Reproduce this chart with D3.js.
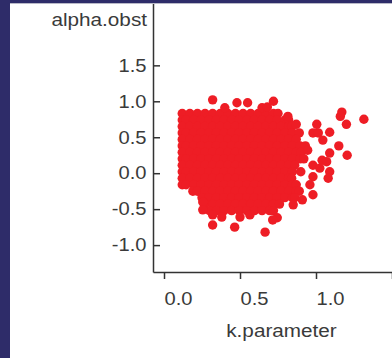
<!DOCTYPE html>
<html>
<head>
<meta charset="utf-8">
<script src="https://cdn.jsdelivr.net/npm/d3@7"></script>
<style>
  html, body { margin: 0; padding: 0; background: #ffffff; }
  svg { display: block; }
</style>
</head>
<body>
<svg id="chart"></svg>
<script>
// Dense core of the cloud, read row by row: alpha.obst of each row, k.parameter values along it
const coreAlpha = [0.83, 0.74, 0.65, 0.56, 0.47, 0.38, 0.29, 0.20, 0.11, 0.02, -0.07, -0.16, -0.25, -0.34, -0.43, -0.52];
const coreK = [
  [0.12, 0.17, 0.22, 0.27, 0.32, 0.37, 0.42, 0.47, 0.52, 0.57, 0.62, 0.67, 0.72, 0.75],
  [0.12, 0.145, 0.195, 0.245, 0.295, 0.345, 0.395, 0.445, 0.495, 0.545, 0.595, 0.645, 0.695, 0.745, 0.795, 0.82],
  [0.12, 0.17, 0.22, 0.27, 0.32, 0.37, 0.42, 0.47, 0.52, 0.57, 0.62, 0.67, 0.72, 0.77, 0.82, 0.84],
  [0.12, 0.145, 0.195, 0.245, 0.295, 0.345, 0.395, 0.445, 0.495, 0.545, 0.595, 0.645, 0.695, 0.745, 0.795, 0.845, 0.89],
  [0.12, 0.17, 0.22, 0.27, 0.32, 0.37, 0.42, 0.47, 0.52, 0.57, 0.62, 0.67, 0.72, 0.77, 0.82, 0.87],
  [0.12, 0.145, 0.195, 0.245, 0.295, 0.345, 0.395, 0.445, 0.495, 0.545, 0.595, 0.645, 0.695, 0.745, 0.795, 0.845, 0.895, 0.93],
  [0.12, 0.17, 0.22, 0.27, 0.32, 0.37, 0.42, 0.47, 0.52, 0.57, 0.62, 0.67, 0.72, 0.77, 0.82, 0.87, 0.90],
  [0.12, 0.145, 0.195, 0.245, 0.295, 0.345, 0.395, 0.445, 0.495, 0.545, 0.595, 0.645, 0.695, 0.745, 0.795, 0.845, 0.895, 0.92],
  [0.12, 0.17, 0.22, 0.27, 0.32, 0.37, 0.42, 0.47, 0.52, 0.57, 0.62, 0.67, 0.72, 0.77, 0.82, 0.86],
  [0.12, 0.145, 0.195, 0.245, 0.295, 0.345, 0.395, 0.445, 0.495, 0.545, 0.595, 0.645, 0.695, 0.745, 0.795, 0.845, 0.90],
  [0.12, 0.17, 0.22, 0.27, 0.32, 0.37, 0.42, 0.47, 0.52, 0.57, 0.62, 0.67, 0.72, 0.77, 0.82, 0.84],
  [0.12, 0.145, 0.195, 0.245, 0.295, 0.345, 0.395, 0.445, 0.495, 0.545, 0.595, 0.645, 0.695, 0.745, 0.795, 0.845, 0.87],
  [0.19, 0.22, 0.27, 0.32, 0.37, 0.42, 0.47, 0.52, 0.57, 0.62, 0.67, 0.72, 0.77, 0.82, 0.87, 0.89],
  [0.25, 0.295, 0.345, 0.395, 0.445, 0.495, 0.545, 0.595, 0.645, 0.695, 0.745, 0.795, 0.845, 0.86],
  [0.27, 0.32, 0.37, 0.42, 0.47, 0.52, 0.57, 0.62, 0.67, 0.72, 0.76],
  [0.30, 0.345, 0.395, 0.445, 0.495, 0.545, 0.595, 0.645, 0.695, 0.72]
];

// Scattered points around the core
const outlierK = [0.32, 0.48, 0.55, 0.40, 0.645, 0.68, 0.72, 0.815, 0.87, 1.005, 0.98, 1.015, 1.09, 1.045,
  1.17, 1.16, 1.20, 1.315, 1.15, 1.205, 1.09, 0.945, 1.04, 1.07, 0.98, 1.025, 1.09, 1.08, 0.98, 0.96,
  0.98, 0.91, 0.85, 0.745, 0.715, 0.665, 0.565, 0.50, 0.38, 0.32, 0.32, 0.465, 0.255, 0.255];
const outlierAlpha = [1.02, 0.98, 0.98, 0.91, 0.91, 0.92, 1.00, 0.79, 0.68, 0.68, 0.56, 0.56, 0.57, 0.46,
  0.85, 0.79, 0.68, 0.75, 0.38, 0.25, 0.28, 0.32, 0.18, 0.16, 0.11, 0.07, 0.02, -0.07, -0.05, -0.16,
  -0.30, -0.37, -0.44, -0.62, -0.65, -0.82, -0.58, -0.61, -0.61, -0.58, -0.72, -0.75, -0.40, -0.51];

const xTicks = [0.0, 0.5, 1.0, 1.5];
const xTickLabels = ['0.0', '0.5', '1.0', ''];
const yTicks = [-1.0, -0.5, 0.0, 0.5, 1.0, 1.5];
const xTitle = 'k.parameter';
const yTitle = 'alpha.obst';

// Dimensions
const width = 392;
const height = 358;
const plot = { left: 153, right: 392, top: 3, bottom: 272 };
const stretch = 'scale(1.12,1)';

const svg = d3.select('#chart').attr('width', width).attr('height', height);

// Scales
const xScale = d3.scaleLinear().domain([-0.0724, 1.5]).range([plot.left, plot.right]);
const yScale = d3.scaleLinear().domain([-1.374, 2.367]).range([plot.bottom, plot.top]);

// Flatten the rows and the outliers into one point list
const points = [];
coreAlpha.forEach((a, i) => coreK[i].forEach((k) => points.push({ k: k, a: a })));
outlierK.forEach((k, i) => points.push({ k: k, a: outlierAlpha[i] }));

svg
  .append('g')
  .selectAll('circle')
  .data(points)
  .enter()
  .append('circle')
  .attr('cx', (d) => xScale(d.k))
  .attr('cy', (d) => yScale(d.a))
  .attr('r', 4.7)
  .attr('fill', '#ee1d25');

// Axes
const yAxisGrp = svg
  .append('g')
  .attr('transform', `translate(${plot.left},0)`)
  .call(d3.axisLeft(yScale).tickValues(yTicks).tickFormat((d) => d.toFixed(1)).tickSizeInner(-7).tickSizeOuter(0));

yAxisGrp
  .selectAll('.tick text')
  .attr('x', 0)
  .attr('transform', 'translate(-6.5,0) ' + stretch);

const xAxisGrp = svg
  .append('g')
  .attr('transform', `translate(0,${plot.bottom})`)
  .call(d3.axisBottom(xScale).tickValues(xTicks).tickFormat((d, i) => xTickLabels[i]).tickSizeInner(7).tickSizeOuter(0));

xAxisGrp
  .selectAll('.tick text')
  .attr('y', 0)
  .attr('dy', 0)
  .attr('text-anchor', 'start')
  .attr('transform', 'translate(0,33) ' + stretch);

svg.selectAll('.domain, .tick line').attr('stroke', '#333333').attr('stroke-width', 1.5);
svg
  .selectAll('.tick text')
  .attr('fill', '#3a3a3a')
  .style('font-family', '"Liberation Sans", Arial, sans-serif')
  .style('font-size', '18px');

// Axis titles
svg
  .append('text')
  .attr('transform', `translate(281.5,337) ${stretch}`)
  .attr('text-anchor', 'middle')
  .attr('fill', '#3a3a3a')
  .style('font-family', '"Liberation Sans", Arial, sans-serif')
  .style('font-size', '18.5px')
  .text(xTitle);

svg
  .append('text')
  .attr('transform', `translate(147,25.5) ${stretch}`)
  .attr('text-anchor', 'end')
  .attr('fill', '#3a3a3a')
  .style('font-family', '"Liberation Sans", Arial, sans-serif')
  .style('font-size', '18.5px')
  .text(yTitle);

// Frame strips along the left and top edges
svg.append('rect').attr('x', 0).attr('y', 0).attr('width', 10).attr('height', height).attr('fill', '#2e2c69');
svg.append('rect').attr('x', 0).attr('y', 0).attr('width', width).attr('height', 3).attr('fill', '#2e2c69');
svg.append('rect').attr('x', 10).attr('y', 3).attr('width', width - 10).attr('height', 1).attr('fill', '#b9b9c8');
</script>
</body>
</html>
